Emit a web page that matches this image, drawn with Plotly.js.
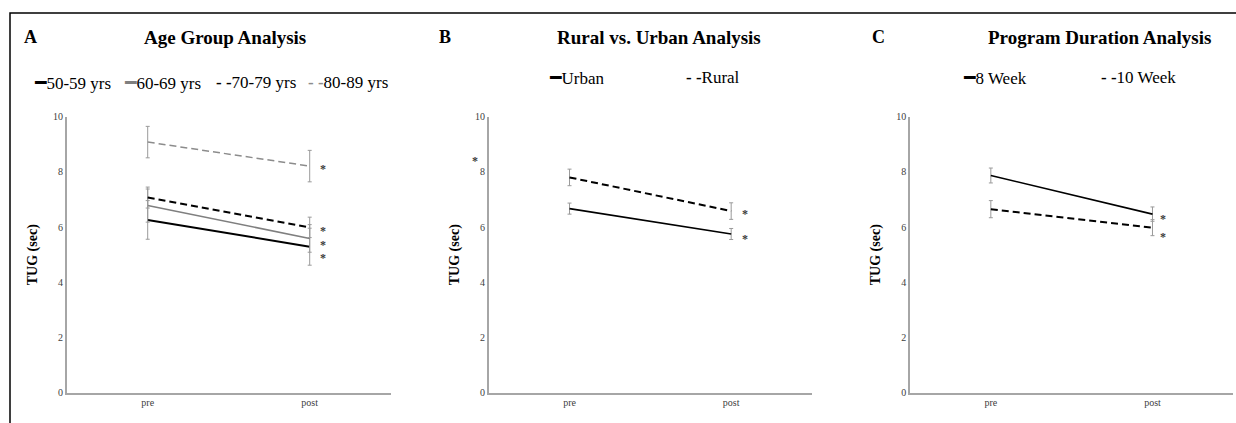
<!DOCTYPE html>
<html>
<head>
<meta charset="utf-8">
<script src="https://cdn.plot.ly/plotly-3.0.1.min.js"></script>
<style>html,body{margin:0;padding:0;background:#fff;}#chart{width:1236px;height:423px;}</style>
</head>
<body>
<div id="chart"></div>
<script>
// ---------- data ----------
var categories = ['pre', 'post'];

// Panel A: Age Group Analysis
var ageNames = ['50-59 yrs', '60-69 yrs', '70-79 yrs', '80-89 yrs'];
var age5059 = [6.26, 5.29];
var age5059Err = [0.70, 0.67];
var age6069 = [6.78, 5.59];
var age6069Err = [0.60, 0.50];
var age7079 = [7.07, 5.99];
var age7079Err = [0.38, 0.37];
var age8089 = [9.08, 8.21];
var age8089Err = [0.57, 0.57];

// Panel B: Rural vs. Urban
var locNames = ['Urban', 'Rural'];
var urban = [6.67, 5.75];
var urbanErr = [0.20, 0.20];
var rural = [7.80, 6.58];
var ruralErr = [0.30, 0.30];

// Panel C: Program Duration
var durNames = ['8 Week', '10 Week'];
var week8 = [7.87, 6.47];
var week8Err = [0.27, 0.26];
var week10 = [6.65, 5.98];
var week10Err = [0.31, 0.29];

// significance markers (y values at the marks)
var starsA = [8.19, 5.95, 5.45, 4.96];
var starsB = [6.58, 5.65];
var starsBPre = [8.49];
var starsC = [6.40, 5.75];

var titles = ['Age Group Analysis', 'Rural vs. Urban Analysis', 'Program Duration Analysis'];
var panelLetters = ['A', 'B', 'C'];
var yTitle = 'TUG (sec)';
var yTicks = [0, 2, 4, 6, 8, 10];

// ---------- styling ----------
var W = 1236, H = 423;
var SERIF = '"Liberation Serif", "Times New Roman", serif';
var AXIS_GREY = '#a6a6a6';
var ERR_GREY = '#9a9a9a';
function px(x) { return x / W; }
function py(y) { return 1 - y / H; }

function tr(y, err, name, xa, ya, color, width, dash) {
  return {
    x: categories, y: y, name: name, type: 'scatter', mode: 'lines',
    xaxis: xa, yaxis: ya,
    line: {color: color, width: width, dash: dash},
    error_y: {type: 'data', array: err, visible: true, color: ERR_GREY, thickness: 1, width: 2},
    hoverinfo: 'x+y+name'
  };
}

var DASH = '7px,4px';
var ageColors = ['#000000', '#7f7f7f', '#000000', '#8c8c8c'];
var ageKinds = ['solid', 'solid', 'dash', 'dash'];
var data = [
  tr(age5059, age5059Err, ageNames[0], 'x', 'y', ageColors[0], 2, 'solid'),
  tr(age6069, age6069Err, ageNames[1], 'x', 'y', ageColors[1], 1.5, 'solid'),
  tr(age7079, age7079Err, ageNames[2], 'x', 'y', ageColors[2], 2, DASH),
  tr(age8089, age8089Err, ageNames[3], 'x', 'y', ageColors[3], 1.5, DASH),
  tr(urban, urbanErr, locNames[0], 'x2', 'y2', '#000000', 1.6, 'solid'),
  tr(rural, ruralErr, locNames[1], 'x2', 'y2', '#000000', 2, DASH),
  tr(week8, week8Err, durNames[0], 'x3', 'y3', '#000000', 1.6, 'solid'),
  tr(week10, week10Err, durNames[1], 'x3', 'y3', '#000000', 2, DASH)
];

var domainsX = [[px(66.7), px(390.7)], [px(488.7), px(812)], [px(910), px(1233.3)]];
var domainY = [py(392.7), py(116.7)];

function xaxis(i) {
  return {
    domain: domainsX[i], type: 'category', range: [-0.5, 1.5],
    showline: true, linecolor: AXIS_GREY, linewidth: 1.5,
    showgrid: false, zeroline: false, ticks: '',
    tickfont: {family: SERIF, size: 10, color: '#404040'},
    anchor: i === 0 ? 'y' : 'y' + (i + 1), fixedrange: true
  };
}
function yaxis(i) {
  return {
    domain: domainY, range: [0, 10], tickvals: yTicks,
    showline: true, linecolor: AXIS_GREY, linewidth: 1.5,
    showgrid: false, zeroline: false, ticks: '',
    tickfont: {family: SERIF, size: 10, color: '#404040'},
    title: {text: yTitle, font: {family: SERIF, size: 14, color: '#000', weight: 'bold'}, standoff: 12},
    anchor: i === 0 ? 'x' : 'x' + (i + 1), fixedrange: true
  };
}

var annotations = [];
var letterX = [30, 444.5, 878];
var titleX = [225, 658.7, 1099];
titles.forEach(function (t, i) {
  annotations.push({xref: 'paper', yref: 'paper', x: px(titleX[i]), y: py(37.5), text: '<b>' + t + '</b>',
    showarrow: false, xanchor: 'center', yanchor: 'middle', font: {family: SERIF, size: 19, color: '#000'}});
  annotations.push({xref: 'paper', yref: 'paper', x: px(letterX[i]), y: py(37.5), text: '<b>' + panelLetters[i] + '</b>',
    showarrow: false, xanchor: 'center', yanchor: 'middle', font: {family: SERIF, size: 18, color: '#000'}});
});

// legend rows (text-style keys as in the original figure)
function legendItem(xpx, ypx, name, color, kind) {
  var key = kind === 'solid'
    ? '<span style="font-family:DejaVu Sans;font-size:19px;color:' + color + '">━</span>'
    : '<b><span style="color:' + color + '">- -</span></b>';
  annotations.push({xref: 'paper', yref: 'paper', x: px(xpx), y: py(ypx), text: key + name,
    showarrow: false, xanchor: 'left', yanchor: 'middle', font: {family: SERIF, size: 17, color: '#000'}});
}
var legAX = [32, 122, 214, 306];
ageNames.forEach(function (n, i) { legendItem(legAX[i], 82, n, ageColors[i], ageKinds[i]); });
legendItem(547, 77, locNames[0], '#000000', 'solid');
legendItem(684, 77, locNames[1], '#000000', 'dash');
legendItem(961, 77, durNames[0], '#000000', 'solid');
legendItem(1099, 77, durNames[1], '#000000', 'dash');

function star(xa, ya, x, y) {
  annotations.push({xref: xa, yref: ya, x: x, y: y, text: '<b>*</b>', showarrow: false,
    xanchor: 'center', yanchor: 'middle', yshift: -2.5, font: {family: SERIF, size: 12, color: '#3a3a3a'}});
}
starsA.forEach(function (v) { star('x', 'y', 1.084, v); });
starsB.forEach(function (v) { star('x2', 'y2', 1.083, v); });
// the pre-period mark in panel B sits just left of the y axis (axis-domain fraction)
starsBPre.forEach(function (v) { star('x2 domain', 'y2', -0.041, v); });
starsC.forEach(function (v) { star('x3', 'y3', 1.067, v); });

var layout = {
  width: W, height: H,
  margin: {l: 0, r: 0, t: 0, b: 0},
  paper_bgcolor: '#ffffff', plot_bgcolor: '#ffffff',
  showlegend: false,
  xaxis: xaxis(0), yaxis: yaxis(0),
  xaxis2: xaxis(1), yaxis2: yaxis(1),
  xaxis3: xaxis(2), yaxis3: yaxis(2),
  annotations: annotations,
  shapes: [{type: 'rect', xref: 'paper', yref: 'paper', x0: px(10), x1: 1.05, y0: py(13), y1: -0.05,
    line: {color: '#000', width: 1.5}, fillcolor: 'rgba(0,0,0,0)', layer: 'below'}]
};

Plotly.newPlot('chart', data, layout, {displayModeBar: false});
</script>
</body>
</html>
